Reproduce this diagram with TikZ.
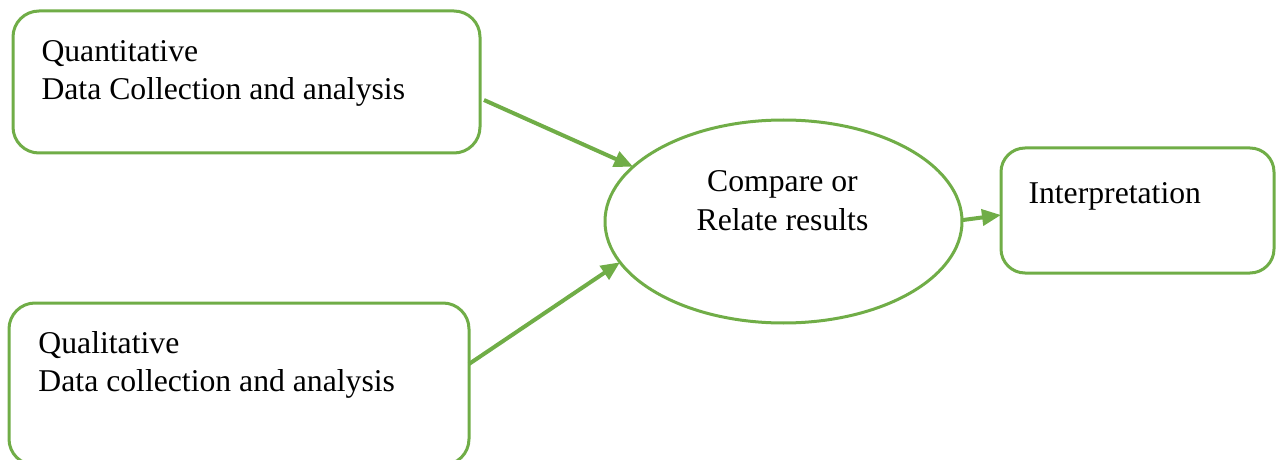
\documentclass[tikz,border=0pt]{standalone}
\usepackage{fontspec}
\setmainfont{Liberation Serif}
\usetikzlibrary{arrows.meta,shapes.geometric,calc}
\definecolor{flowgreen}{HTML}{70AD47}
\tikzset{
  roundbox/.style={draw=flowgreen, line width=1.5pt, rectangle, rounded corners=13pt, inner sep=0pt, outer sep=0pt, fill=white},
  oval/.style={draw=flowgreen, line width=1.5pt, ellipse, inner sep=0pt, outer sep=0pt, fill=white},
  label/.style={inner sep=0pt, outer sep=0pt, font=\fontsize{15.85pt}{19.3pt}\selectfont, text=black},
  arr/.style={draw=flowgreen, line width=2pt, -{Triangle[length=9.5pt,width=8pt]}}
}
\begin{document}
\begin{tikzpicture}[x=0.5pt,y=-0.5pt]
\useasboundingbox (0,0) rectangle (1280,460);
% boxes
\node[roundbox, minimum width=233.5pt, minimum height=71pt] (quant) at (246.5,82) {};
\node[roundbox, minimum width=230pt, minimum height=81pt] (qual) at (239,384) {};
\node[oval, minimum width=178.5pt, minimum height=101.5pt] (comp) at (783.5,221.5) {};
\node[roundbox, minimum width=136.5pt, minimum height=62.5pt, rounded corners=12pt] (interp) at (1137.5,210.5) {};
% texts
\node[label, anchor=base west] (quant1) at (41.5,61.5) {Quantitative};
\node[label, anchor=base west] (quant2) at (41.5,99.5) {Data Collection and analysis};
\node[label, anchor=base west] (qual1) at (38.5,353.5) {Qualitative};
\node[label, anchor=base west] (qual2) at (38.5,391.5) {Data collection and analysis};
\node[label, anchor=base] (comp1) at (782.5,191.5) {Compare or};
\node[label, anchor=base] (comp2) at (782.5,230.5) {Relate results};
\node[label, anchor=base west] (interp1) at (1028.5,203) {Interpretation};
% connectors
\draw[arr] ($(quant.east)+(4,18)$) -- (comp.160.4);
\draw[arr] ($(qual.east)+(0,-20)$) -- (comp.194);
\draw[arr] ($(comp.east)+(1,-1.5)$) -- ($(interp.west)+(0,4.5)$);
\end{tikzpicture}
\end{document}
